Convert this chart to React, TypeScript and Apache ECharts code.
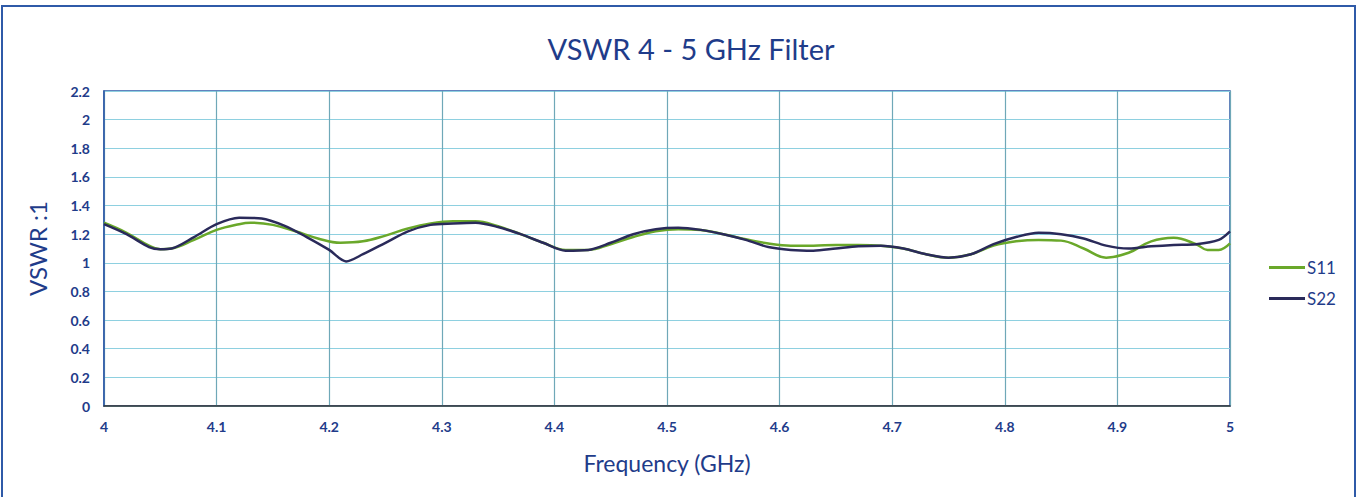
import React, { useEffect, useRef } from "react";
import * as echarts from "echarts";

const freqS11 = [4.00,4.02,4.04,4.05,4.06,4.08,4.10,4.12,4.13,4.15,4.17,4.19,4.21,4.23,4.25,4.27,4.29,4.31,4.33,4.35,4.37,4.39,4.41,4.43,4.45,4.47,4.49,4.51,4.53,4.55,4.57,4.59,4.61,4.63,4.65,4.67,4.69,4.71,4.73,4.75,4.77,4.79,4.81,4.83,4.85,4.87,4.89,4.91,4.93,4.95,4.97,4.98,4.99,5.00];
const vswrS11 = [1.28,1.21,1.12,1.095,1.10,1.16,1.23,1.27,1.28,1.265,1.22,1.17,1.14,1.15,1.19,1.24,1.275,1.29,1.29,1.255,1.20,1.14,1.09,1.09,1.13,1.18,1.22,1.235,1.23,1.20,1.165,1.135,1.12,1.12,1.125,1.125,1.12,1.10,1.06,1.036,1.06,1.12,1.15,1.16,1.155,1.10,1.036,1.07,1.15,1.175,1.13,1.09,1.09,1.135];

const freqS22 = [4.00,4.02,4.04,4.05,4.06,4.08,4.10,4.12,4.14,4.16,4.18,4.20,4.215,4.23,4.25,4.27,4.29,4.31,4.33,4.35,4.37,4.39,4.41,4.43,4.45,4.47,4.49,4.51,4.53,4.55,4.57,4.59,4.61,4.63,4.65,4.67,4.69,4.71,4.73,4.75,4.77,4.79,4.81,4.83,4.85,4.87,4.89,4.91,4.93,4.95,4.97,4.99,5.00];
const vswrS22 = [1.27,1.20,1.11,1.095,1.10,1.18,1.27,1.315,1.31,1.26,1.18,1.09,1.01,1.06,1.14,1.22,1.265,1.275,1.28,1.25,1.20,1.14,1.085,1.09,1.14,1.20,1.235,1.245,1.23,1.20,1.16,1.11,1.09,1.085,1.10,1.115,1.12,1.10,1.06,1.036,1.06,1.13,1.18,1.21,1.20,1.17,1.12,1.10,1.115,1.125,1.13,1.16,1.22];

const seriesNames = ["S11", "S22"];
const seriesColors = ["#6aa82a", "#2a2a5a"];

const FONT = "Lato, 'Open Sans', sans-serif";
const NAVY = "#1f3c8a";

export default function App() {
  const ref = useRef<HTMLDivElement>(null);
  useEffect(() => {
    if (!ref.current) return;
    const chart = echarts.init(ref.current, null, { renderer: "svg" });
    const pairs = (xs: number[], ys: number[]) => xs.map((x, i) => [x, ys[i]]);
    chart.setOption({
      animation: false,
      backgroundColor: "#ffffff",
      title: {
        text: "VSWR 4 - 5 GHz Filter",
        left: 686,
        textAlign: "center",
        top: 29,
        textStyle: { color: NAVY, fontSize: 29, fontWeight: "normal", fontFamily: FONT },
      },
      graphic: [
        {
          type: "rect",
          shape: { x: 2, y: 6, width: 1353, height: 500 },
          style: { fill: "none", stroke: "#2f5aa8", lineWidth: 2 },
          silent: true,
        },
      ],
      legend: {
        orient: "vertical",
        left: 1264,
        top: 254,
        itemGap: 14,
        itemWidth: 36,
        itemHeight: 3,
        icon: "rect",
        textStyle: { color: NAVY, fontSize: 17, fontFamily: FONT, padding: [0, 0, 0, -3] },
        data: seriesNames,
      },
      grid: { left: 104, right: 135, top: 91, bottom: 91, show: true, borderColor: "#2f5aa8", borderWidth: 1.5 },
      xAxis: {
        type: "value",
        min: 4,
        max: 5,
        interval: 0.1,
        name: "Frequency (GHz)",
        nameLocation: "middle",
        nameGap: 45,
        nameTextStyle: { color: NAVY, fontSize: 23, fontFamily: FONT },
        axisLine: { show: true, lineStyle: { color: "#333333", width: 1.5 } },
        axisTick: { show: false },
        axisLabel: {
          color: NAVY,
          fontSize: 14,
          fontWeight: "bold",
          fontFamily: FONT,
          margin: 13,
          formatter: (v: number) => String(Math.round(v * 10) / 10),
        },
        splitLine: { show: true, lineStyle: { color: "#6fa8b8", width: 1.2 } },
      },
      yAxis: {
        type: "value",
        min: 0,
        max: 2.2,
        interval: 0.2,
        name: "VSWR :1",
        nameLocation: "middle",
        nameGap: 55,
        nameTextStyle: { color: NAVY, fontSize: 24, fontFamily: FONT },
        axisLine: { show: true, lineStyle: { color: "#2f5aa8", width: 1.5 } },
        axisTick: { show: false },
        axisLabel: {
          color: NAVY,
          fontSize: 14,
          fontWeight: "bold",
          fontFamily: FONT,
          margin: 14,
          formatter: (v: number) => String(Math.round(v * 10) / 10),
        },
        splitLine: { show: true, lineStyle: { color: "#8ed0e0", width: 1.2 } },
      },
      series: [
        {
          name: seriesNames[0],
          type: "line",
          data: pairs(freqS11, vswrS11),
          smooth: 0.4,
          showSymbol: false,
          color: seriesColors[0],
          lineStyle: { width: 2.5, color: seriesColors[0] },
          z: 2,
        },
        {
          name: seriesNames[1],
          type: "line",
          data: pairs(freqS22, vswrS22),
          smooth: 0.3,
          showSymbol: false,
          color: seriesColors[1],
          lineStyle: { width: 2.5, color: seriesColors[1] },
          z: 3,
        },
      ],
    });
    return () => chart.dispose();
  }, []);
  return (
    <div
      ref={ref}
      style={{ position: "absolute", left: 0, top: 0, width: 1365, height: 497 }}
    />
  );
}
